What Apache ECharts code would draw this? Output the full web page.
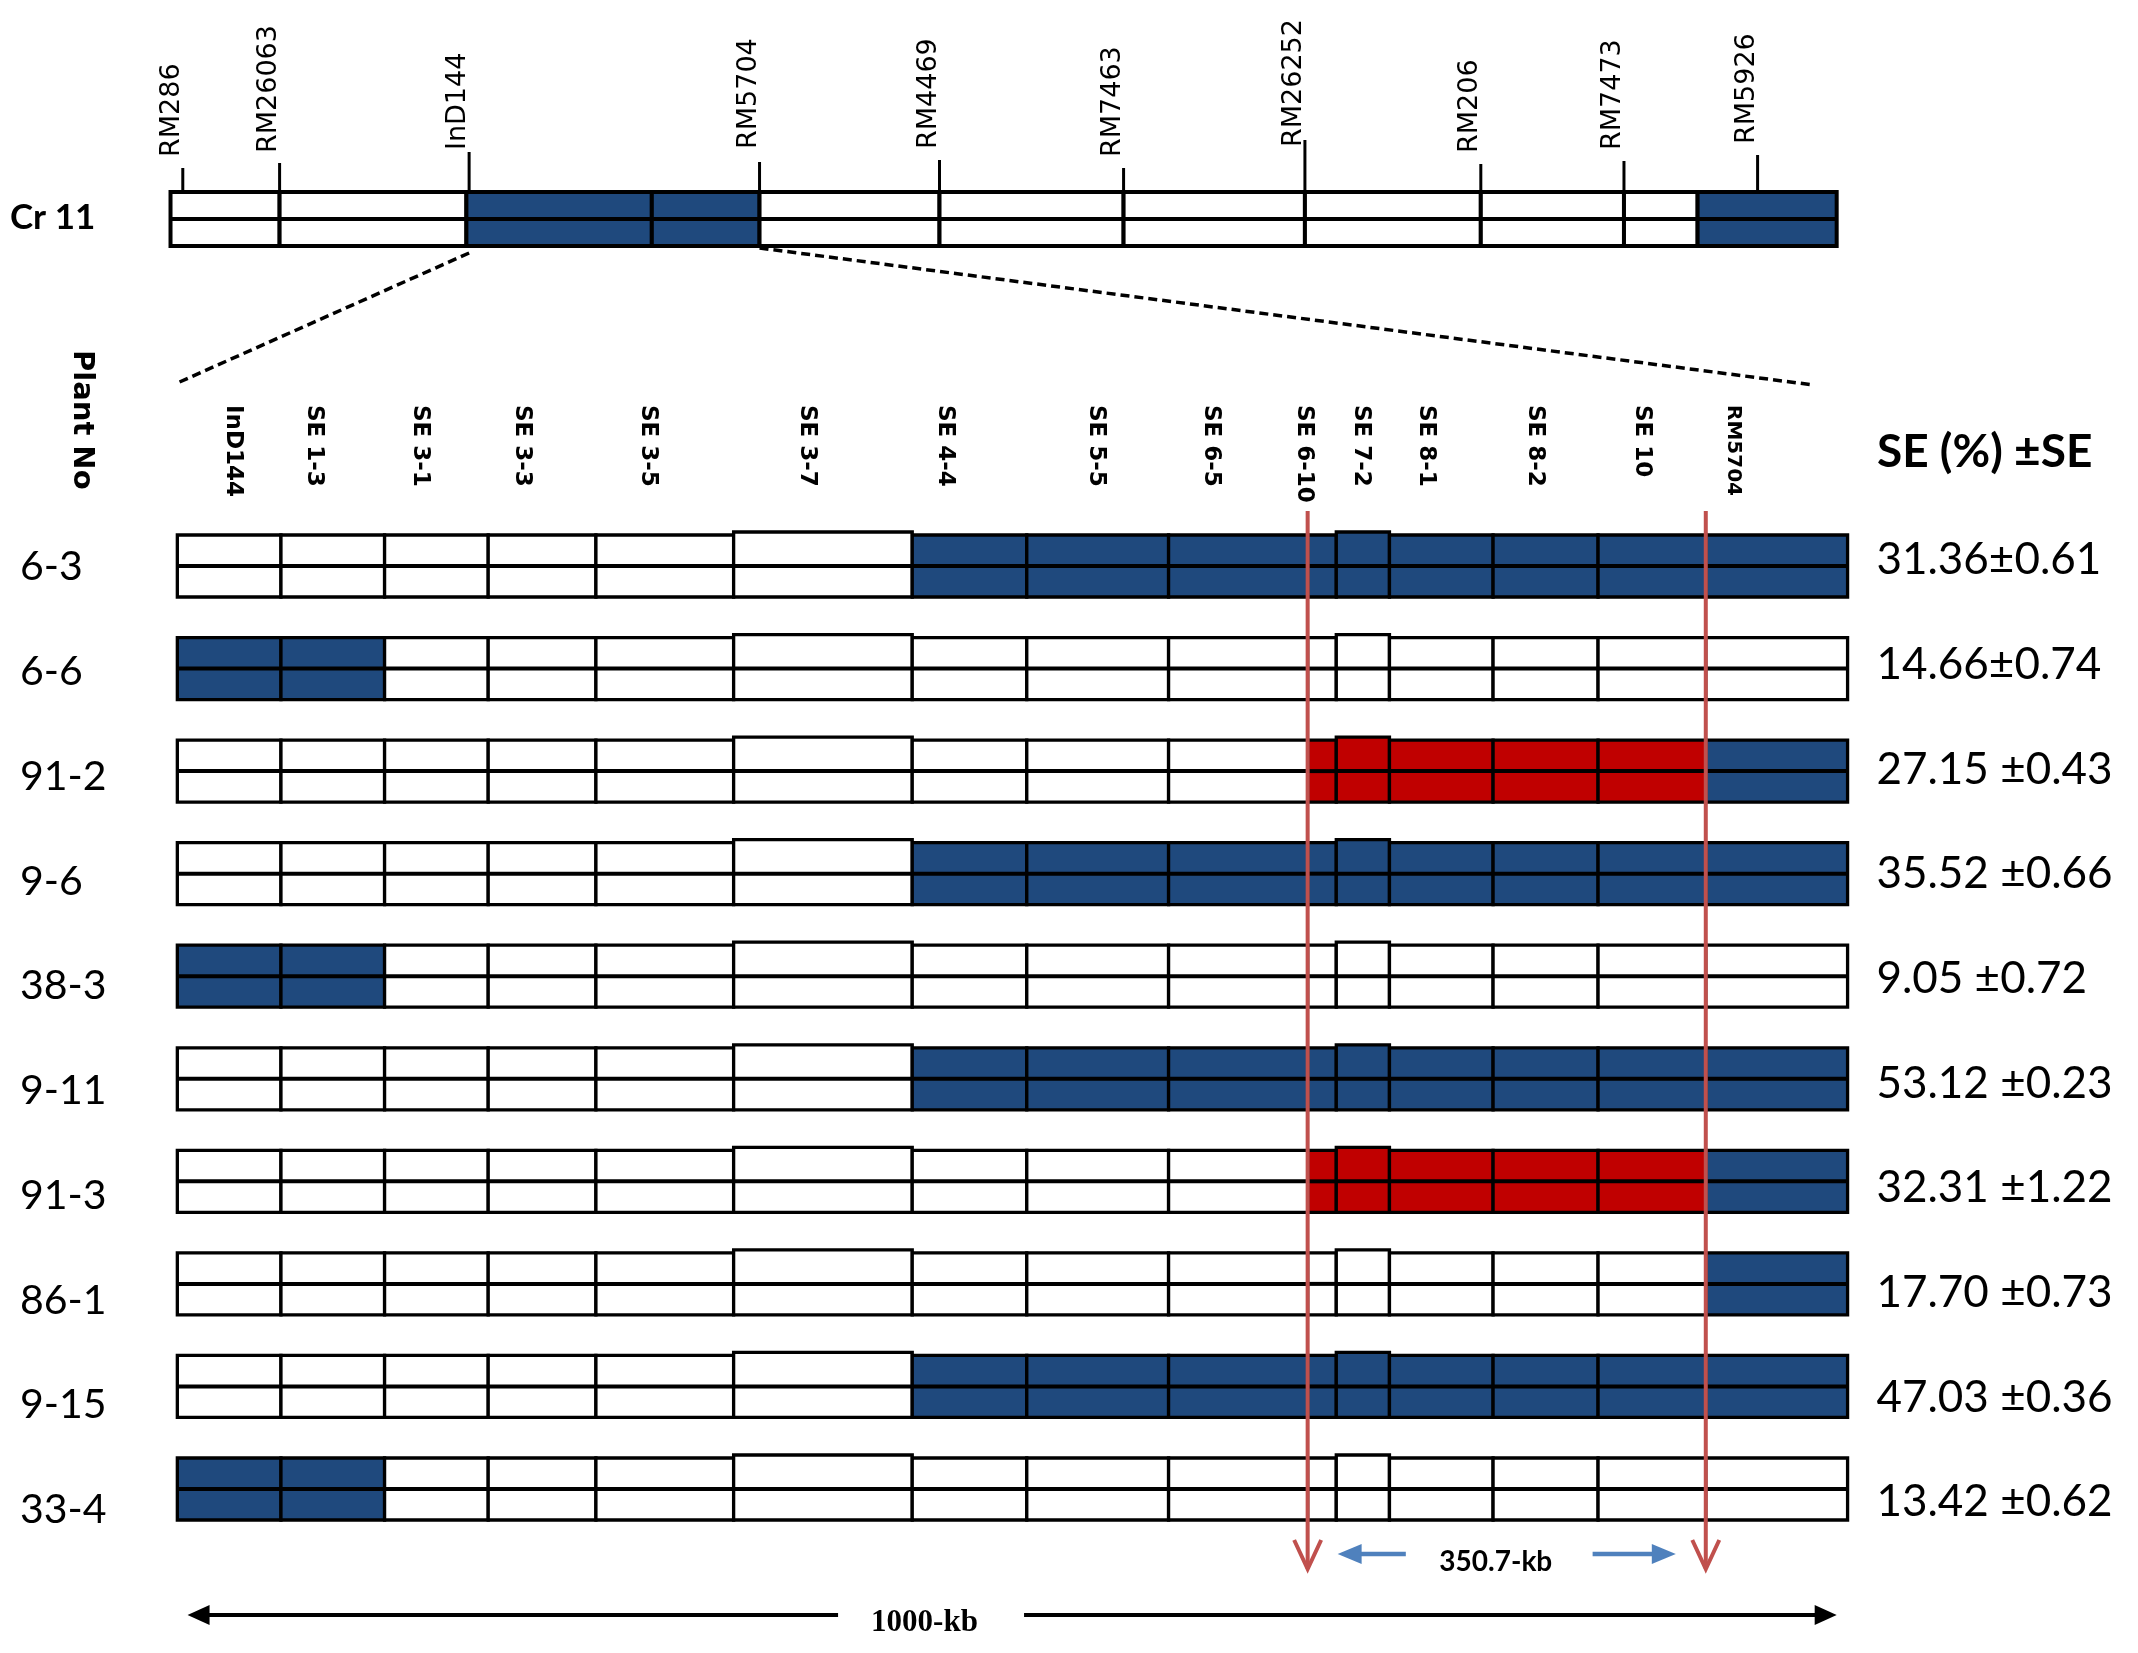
<!DOCTYPE html>
<html>
<head>
<meta charset="utf-8">
<script src="https://cdn.jsdelivr.net/npm/echarts@6.0.0/dist/echarts.min.js"></script>
<style>
    html, body { margin: 0; padding: 0; background: #fff; }
    #main { width: 2138px; height: 1653px; }
</style>
</head>
<body>
<div id="main"></div>
<script type="text/javascript">
    // ---- data (positions in map units along the drawn interval) ----
    var chrMarkers   = ['RM286', 'RM26063', 'InD144', 'RM5704', 'RM4469', 'RM7463', 'RM26252', 'RM206', 'RM7473', 'RM5926'];
    var chrMarkerPos = [4, 75, 214, 427, 559, 694, 827, 956, 1061, 1159];
    var chrBounds    = [-5, 75, 212, 348, 427, 559, 694, 827, 956, 1061, 1115, 1217];
    var chrGeno      = ['A', 'A', 'B', 'B', 'A', 'A', 'A', 'A', 'A', 'A', 'B'];

    var columns   = ['InD144', 'SE 1-3', 'SE 3-1', 'SE 3-3', 'SE 3-5', 'SE 3-7', 'SE 4-4', 'SE 5-5',
                     'SE 6-5', 'SE 6-10', 'SE 7-2', 'SE 8-1', 'SE 8-2', 'SE 10', 'RM5704'];
    var columnPos = [41, 100, 178, 253, 345, 462, 563, 674, 758, 826, 868, 916, 996, 1074, 1141];
    var colBounds = [0, 76, 152, 228, 307, 408, 539, 623, 727, 829, 850, 889, 965, 1042, 1121, 1225];

    var plants = ['6-3', '6-6', '91-2', '9-6', '38-3', '9-11', '91-3', '86-1', '9-15', '33-4'];
    // A = white, B = blue, H = red ; one letter per column
    var genotypes = [
        'AAAAAABBBBBBBBB',
        'BBAAAAAAAAAAAAA',
        'AAAAAAAAAHHHHHB',
        'AAAAAABBBBBBBBB',
        'BBAAAAAAAAAAAAA',
        'AAAAAABBBBBBBBB',
        'AAAAAAAAAHHHHHB',
        'AAAAAAAAAAAAAAB',
        'AAAAAABBBBBBBBB',
        'BBAAAAAAAAAAAAA'
    ];
    var seMean = [31.36, 14.66, 27.15, 35.52, 9.05, 53.12, 32.31, 17.70, 47.03, 13.42];
    var seErr  = [0.61, 0.74, 0.43, 0.66, 0.72, 0.23, 1.22, 0.73, 0.36, 0.62];

    var intervalFrom = 'SE 6-10', intervalTo = 'RM5704', intervalLabel = '350.7-kb';
    var scaleLabel = '1000-kb';

    // ---- layout ----
    var genoColor = { A: '#ffffff', B: '#1f497d', H: '#c00000' };
    var markerTickTop  = [168, 163, 152, 162, 160, 168, 140, 164, 161, 155];
    var markerLabelBase = [157, 153, 150, 149, 149, 157, 147, 153, 150, 144];
    var gl = 163.7, gr = 283.6;

    var seLabels = seMean.map(function (m, i) {
        return m.toFixed(2) + (i < 2 ? '\u00b1' : ' \u00b1') + seErr[i].toFixed(2);
    });

    function ln(a, b, st) {
        return { type: 'line', shape: { x1: a[0], y1: a[1], x2: b[0], y2: b[1] }, style: st };
    }
    function txt(x, y, s, st, rot) {
        return { type: 'text', x: x, y: y, rotation: rot || 0, style: echarts.util.extend({ text: s, fill: '#000' }, st) };
    }

    var chrData = [];
    for (var i = 0; i < chrGeno.length; i++) {
        chrData.push([chrBounds[i], chrBounds[i + 1], 'ABH'.indexOf(chrGeno[i])]);
    }
    var rowData = [];
    plants.forEach(function (p, r) {
        for (var c = 0; c < columns.length; c++) {
            rowData.push([colBounds[c], colBounds[c + 1], r, c, 'ABH'.indexOf(genotypes[r].charAt(c))]);
        }
    });

    var myChart = echarts.init(document.getElementById('main'));

    var option = {
        backgroundColor: '#fff',
        animation: false,
        grid: [
            { left: gl, right: gr, top: 0, bottom: 0, outerBoundsMode: 'none' },
            { left: gl, right: gr, top: 566, bottom: 164, outerBoundsMode: 'none' },
            { left: gl, right: gr, top: 567, bottom: 143, outerBoundsMode: 'none' },
            { left: gl, right: gr, top: 560, bottom: 151, outerBoundsMode: 'none' }
        ],
        xAxis: [0, 1, 2, 3].map(function (g) {
            return { type: 'value', gridIndex: g, min: -10, max: 1230, show: false };
        }),
        yAxis: [
            { type: 'value', gridIndex: 0, min: 0, max: 1653, inverse: true, show: false },
            { type: 'category', gridIndex: 1, data: plants, inverse: true, boundaryGap: false, show: false },
            {
                type: 'category', gridIndex: 2, data: plants, inverse: true, boundaryGap: false, position: 'left',
                axisLine: { show: false }, axisTick: { show: false }, splitLine: { show: false },
                axisLabel: { interval: 0, margin: gl - 20, align: 'left', color: '#000', fontFamily: 'Lato', fontSize: 41 }
            },
            {
                type: 'category', gridIndex: 3, data: seLabels, inverse: true, boundaryGap: false, position: 'right',
                axisLine: { show: false }, axisTick: { show: false }, splitLine: { show: false },
                axisLabel: { interval: 0, margin: 22, align: 'left', color: '#000', fontFamily: 'Lato', fontSize: 44 }
            }
        ],
        series: [
            {
                // chromosome 11 framework
                type: 'custom', xAxisIndex: 0, yAxisIndex: 0, data: chrData,
                encode: { x: [0, 1] },
                renderItem: function (params, api) {
                    var p0 = api.coord([api.value(0), 192]);
                    var p1 = api.coord([api.value(1), 246]);
                    var g = 'ABH'.charAt(api.value(2));
                    return { type: 'group', children: [
                        { type: 'rect', shape: { x: p0[0], y: p0[1], width: p1[0] - p0[0], height: p1[1] - p0[1] },
                          style: { fill: genoColor[g], stroke: '#000', lineWidth: 4 } },
                        ln([p0[0], (p0[1] + p1[1]) / 2], [p1[0], (p0[1] + p1[1]) / 2], { stroke: '#000', lineWidth: 4 })
                    ] };
                }
            },
            {
                // markers above chromosome
                type: 'custom', xAxisIndex: 0, yAxisIndex: 0,
                data: chrMarkerPos.map(function (v, k) { return [v, k]; }),
                encode: { x: 0 },
                renderItem: function (params, api) {
                    var k = params.dataIndex;
                    var p = api.coord([api.value(0), 192]);
                    return { type: 'group', children: [
                        ln([p[0], 192], [p[0], markerTickTop[k]], { stroke: '#000', lineWidth: 3 }),
                        txt(p[0] - 11, markerLabelBase[k], chrMarkers[k],
                            { fontFamily: 'DejaVu Sans', fontSize: 27, align: 'left', verticalAlign: 'middle' }, Math.PI / 2)
                    ] };
                }
            },
            {
                // column headers of the fine map
                type: 'custom', xAxisIndex: 0, yAxisIndex: 0,
                data: columnPos.map(function (v, k) { return [v, k]; }),
                encode: { x: 0 },
                renderItem: function (params, api) {
                    var k = params.dataIndex;
                    var p = api.coord([api.value(0), 405]);
                    var small = columns[k].indexOf('RM') === 0;
                    return txt(p[0], p[1], columns[k], {
                        fontFamily: 'DejaVu Sans', fontWeight: 'bold', fontSize: small ? 20 : 23,
                        align: 'left', verticalAlign: 'middle'
                    }, -Math.PI / 2);
                }
            },
            {
                // graphical genotypes of recombinant plants
                type: 'custom', xAxisIndex: 1, yAxisIndex: 1, data: rowData,
                encode: { x: [0, 1], y: 2 },
                renderItem: function (params, api) {
                    var r = api.value(2), c = api.value(3);
                    var p0 = api.coord([api.value(0), r]);
                    var p1 = api.coord([api.value(1), r]);
                    var h = 62, raise = (c === 5 || c === 10) ? 3 : 0;
                    var g = 'ABH'.charAt(api.value(4));
                    return { type: 'group', children: [
                        { type: 'rect', shape: { x: p0[0], y: p0[1] - h / 2 - raise, width: p1[0] - p0[0], height: h + raise },
                          style: { fill: genoColor[g], stroke: '#000', lineWidth: 3.3 } },
                        ln([p0[0], p0[1]], [p1[0], p0[1]], { stroke: '#000', lineWidth: 4 })
                    ] };
                }
            },
            {
                // annotations: zoom lines, interval arrows, scale bar, titles
                type: 'custom', xAxisIndex: 0, yAxisIndex: 0, data: [[0, 0]],
                encode: { x: 0 },
                renderItem: function (params, api) {
                    var ch = [];
                    var dash = { stroke: '#000', lineWidth: 3.5, lineDash: [9, 5] };
                    var ind = chrMarkerPos[chrMarkers.indexOf('InD144')];
                    var rm = chrMarkerPos[chrMarkers.indexOf('RM5704')];
                    ch.push(ln(api.coord([ind, 253]), api.coord([colBounds[0], 383]), dash));
                    ch.push(ln(api.coord([rm, 248]), api.coord([colBounds[colBounds.length - 1] - 25, 385]), dash));

                    // red boundary arrows of the target interval
                    var qL = colBounds[columns.indexOf(intervalFrom)];
                    var qR = colBounds[columns.indexOf(intervalTo)];
                    var red = { stroke: '#c0504d', lineWidth: 4, fill: null };
                    [qL, qR].forEach(function (q) {
                        var t = api.coord([q, 511]), e = api.coord([q, 1569]);
                        ch.push(ln(t, e, red));
                        ch.push({ type: 'polyline', shape: { points: [[e[0] - 13.5, e[1] - 29], [e[0], e[1]], [e[0] + 13.5, e[1] - 29]] }, style: red });
                    });

                    // blue double arrow with interval size
                    var mid = (qL + qR) / 2;
                    var blue = { stroke: '#4f81bd', lineWidth: 4.5 };
                    var a0 = api.coord([mid - 74, 1554]), a1 = api.coord([qL + 22, 1554]);
                    var b0 = api.coord([mid + 63, 1554]), b1 = api.coord([qR - 22, 1554]);
                    ch.push(ln(a0, [a1[0] + 18, a1[1]], blue));
                    ch.push({ type: 'polygon', shape: { points: [a1, [a1[0] + 24, a1[1] - 10], [a1[0] + 24, a1[1] + 10]] }, style: { fill: '#4f81bd' } });
                    ch.push(ln(b0, [b1[0] - 18, b1[1]], blue));
                    ch.push({ type: 'polygon', shape: { points: [b1, [b1[0] - 24, b1[1] - 10], [b1[0] - 24, b1[1] + 10]] }, style: { fill: '#4f81bd' } });
                    var tc = api.coord([mid - 8, 1562]);
                    ch.push(txt(tc[0], tc[1], intervalLabel, { fontFamily: 'Lato', fontWeight: 'bold', fontSize: 28, align: 'center', verticalAlign: 'middle' }));

                    // 1000-kb scale bar
                    var blk = { stroke: '#000', lineWidth: 4 };
                    var s0 = api.coord([7.5, 1615]), s1 = api.coord([1217, 1615]);
                    var g0 = api.coord([484.6, 1615]), g1 = api.coord([621, 1615]);
                    ch.push(ln([s0[0] + 15, s0[1]], g0, blk));
                    ch.push(ln(g1, [s1[0] - 15, s1[1]], blk));
                    ch.push({ type: 'polygon', shape: { points: [s0, [s0[0] + 22, s0[1] - 10], [s0[0] + 22, s0[1] + 10]] }, style: { fill: '#000' } });
                    ch.push({ type: 'polygon', shape: { points: [s1, [s1[0] - 22, s1[1] - 10], [s1[0] - 22, s1[1] + 10]] }, style: { fill: '#000' } });
                    var sc = api.coord([548, 1623]);
                    ch.push(txt(sc[0], sc[1], scaleLabel, { fontFamily: 'Liberation Serif', fontWeight: 'bold', fontSize: 31, align: 'center', verticalAlign: 'middle' }));

                    // titles
                    ch.push(txt(10, 218, 'Cr 11', { fontFamily: 'Lato', fontWeight: 'bold', fontSize: 35, align: 'left', verticalAlign: 'middle' }));
                    ch.push(txt(82, 350, 'Plant No', { fontFamily: 'DejaVu Sans', fontWeight: 'bold', fontSize: 29, align: 'left', verticalAlign: 'middle' }, -Math.PI / 2));
                    ch.push(txt(1877, 452, 'SE (%) \u00b1SE', { fontFamily: 'Lato', fontWeight: 'bold', fontSize: 46, align: 'left', verticalAlign: 'middle' }));
                    return { type: 'group', children: ch };
                }
            }
        ]
    };

    myChart.setOption(option);
</script>
</body>
</html>
